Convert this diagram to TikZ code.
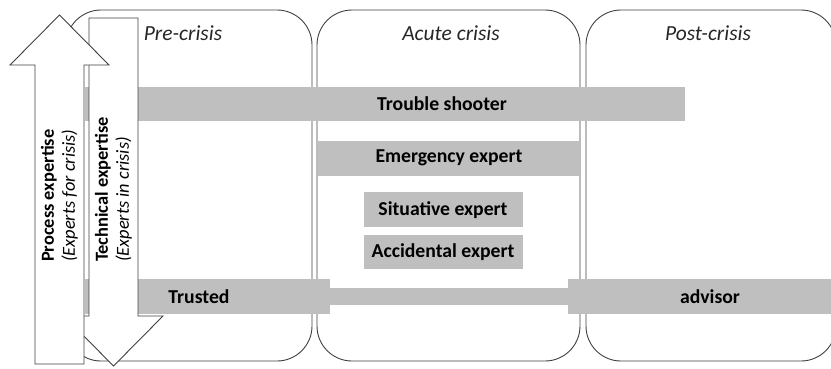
\documentclass[tikz,border=0pt]{standalone}
\usepackage{fontspec}
\setmainfont{Carlito}
\definecolor{barg}{HTML}{BFBFBF}
\definecolor{edge}{HTML}{404040}
\begin{document}
\begin{tikzpicture}[x=1pt,y=-1pt,
  panel/.style={draw=edge,line width=0.9pt,rounded corners=35pt},
  bar/.style={fill=barg},
  lbl/.style={font=\fontsize{19.7}{22}\selectfont\bfseries,inner sep=0pt},
  ttl/.style={font=\fontsize{21.5}{24}\selectfont\itshape,inner sep=0pt,text=black!85},
  rot/.style={font=\fontsize{18.4}{21}\selectfont,inner sep=0pt,align=left,rotate=90,anchor=west},
  arrowshape/.style={draw=edge,fill=white,line width=0.9pt,line join=miter}]
\useasboundingbox (0,0) rectangle (831,368);
% panels
\draw[panel] (66,10) rectangle (312,361);
\draw[panel] (317,10) rectangle (580,361);
\draw[panel] (586,10) rectangle (836,361);
% bars
\fill[bar] (85,87) rectangle (685,121);
\fill[bar] (318,141) rectangle (579,176);
\fill[bar] (364,192) rectangle (523,227);
\fill[bar] (364,235) rectangle (523,269);
\fill[bar] (85,279) rectangle (330,314);
\fill[bar] (329,288) rectangle (569,305);
\fill[bar] (568,279) rectangle (831,314);
% technical arrow (down)
\draw[arrowshape] (89,18) -- (138,18) -- (138,316) -- (163,316) -- (113.5,366) -- (64,316) -- (89,316) -- cycle;
% process arrow (up)
\draw[arrowshape] (35,364) -- (35,65) -- (10,65) -- (59.5,15) -- (109,65) -- (84,65) -- (84,364) -- cycle;
% titles
\node[ttl] (pre) at (183,33) {Pre-crisis};
\node[ttl] (acute) at (451,33) {Acute crisis};
\node[ttl] (post) at (708,33) {Post-crisis};
% bar labels
\node[lbl] (ts) at (442,104) {Trouble shooter};
\node[lbl] (em) at (449,158) {Emergency expert};
\node[lbl] (si) at (443,210) {Situative expert};
\node[lbl] (ac) at (443,252) {Accidental expert};
\node[lbl] (tr) at (199,297) {Trusted};
\node[lbl] (ad) at (710,297) {advisor};
% rotated labels
\node[rot] (proc) at (59.5,262) {\textbf{Process expertise}\\\textit{(Experts for crisis)}};
\node[rot] (tech) at (113.5,262) {\textbf{Technical expertise}\\\textit{(Experts in crisis)}};
\end{tikzpicture}
\end{document}
